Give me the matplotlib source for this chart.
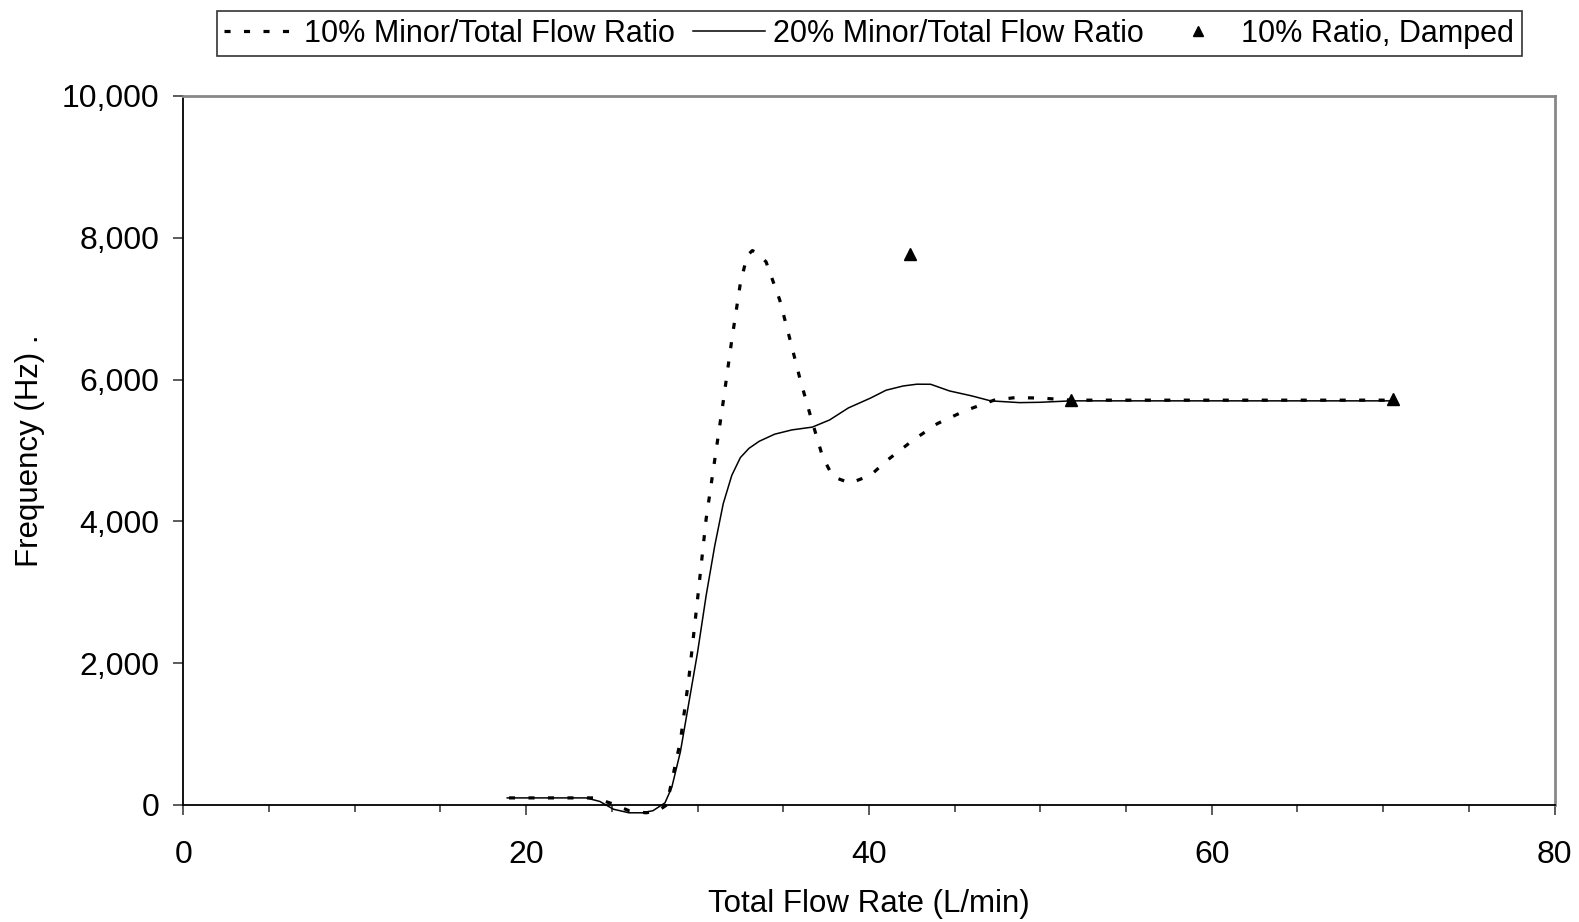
import matplotlib.pyplot as plt
from matplotlib.ticker import MultipleLocator, FuncFormatter
from matplotlib.lines import Line2D

plt.rcParams['font.family'] = ['Liberation Sans', 'DejaVu Sans']

# 10% minor/total flow ratio
flow_10 = [19.0, 20.0, 22.0, 24.0, 25.0, 26.0, 27.0, 27.7, 28.2, 28.6, 29.0, 29.5,
           30.0, 30.5, 31.0, 31.5, 32.0, 32.5, 32.9, 33.2, 33.6, 34.0, 34.8, 35.4,
           36.0, 36.6, 37.3, 37.9, 38.9, 40.1, 41.0, 42.6, 44.0, 45.6, 47.3, 48.5,
           50.0, 51.8, 55.0, 60.0, 65.0, 70.6]
freq_10 = [100, 100, 100, 100, 20, -80, -110, -80, 0, 450, 900, 1800,
           2900, 4030, 4860, 5690, 6560, 7360, 7750, 7820, 7760, 7660, 7120, 6560,
           5990, 5480, 4910, 4630, 4540, 4650, 4850, 5150, 5380, 5560, 5710, 5745,
           5740, 5710, 5710, 5710, 5710, 5710]

# 20% minor/total flow ratio
flow_20 = [18.9, 20.0, 22.0, 23.5, 24.3, 25.1, 26.0, 26.8, 27.4, 28.1, 28.5, 29.0,
           29.5, 30.0, 30.5, 31.0, 31.5, 32.0, 32.5, 33.0, 33.6, 34.5, 35.5, 36.7,
           37.7, 38.8, 40.1, 41.0, 42.0, 42.8, 43.6, 44.7, 46.0, 47.1, 48.8, 50.0,
           51.8, 55.0, 60.0, 65.0, 70.6]
freq_20 = [100, 100, 100, 100, 50, -60, -110, -110, -80, 30, 250, 750,
           1450, 2150, 2950, 3650, 4250, 4650, 4900, 5030, 5130, 5230, 5290, 5330,
           5430, 5600, 5740, 5850, 5910, 5935, 5934, 5840, 5770, 5700, 5675, 5680,
           5700, 5700, 5700, 5700, 5700]

# 10% ratio, damped
flow_damped = [42.4, 51.8, 70.6]
freq_damped = [7770, 5710, 5720]

fig = plt.figure(figsize=(15.79, 9.22), dpi=100)
ax = fig.add_axes([0.1161, 0.1269, 0.8684, 0.769])

ax.plot(flow_10, freq_10, color='black', lw=2.3, linestyle=(0, (1.9, 4.2)),
        clip_on=False, zorder=3)
ax.plot(flow_20, freq_20, color='black', lw=1.1, clip_on=False, zorder=3)
ax.plot(flow_damped, freq_damped, linestyle='none', marker='^', color='black',
        markersize=9, clip_on=False, zorder=4)

ax.set_xlim(0, 80)
ax.set_ylim(0, 10000)
ax.xaxis.set_major_locator(MultipleLocator(20))
ax.xaxis.set_minor_locator(MultipleLocator(5))
ax.yaxis.set_major_locator(MultipleLocator(2000))
ax.yaxis.set_major_formatter(FuncFormatter(lambda v, p: f'{int(v):,}'))

ax.tick_params(axis='both', which='major', direction='out', length=7, width=1.2,
               color='#404040', labelsize=23)
ax.tick_params(axis='x', which='minor', direction='out', length=5, width=1.2,
               color='#404040')
ax.tick_params(axis='x', pad=18)
ax.tick_params(axis='y', pad=10)

for side in ['left', 'bottom']:
    ax.spines[side].set_color('black')
    ax.spines[side].set_linewidth(1.3)
for side in ['top', 'right']:
    ax.spines[side].set_color('#888888')
    ax.spines[side].set_linewidth(2)

ax.set_xlabel('Total Flow Rate (L/min)', fontsize=22.5, labelpad=14)
ax.set_ylabel('Frequency (Hz) .', fontsize=22.5, labelpad=12)

handles = [
    Line2D([], [], color='black', lw=2.3, linestyle=(0, (1.9, 4.2))),
    Line2D([], [], color='black', lw=1.1),
    Line2D([], [], linestyle='none', marker='^', color='black', markersize=7),
]
labels = ['10% Minor/Total Flow Ratio', '20% Minor/Total Flow Ratio',
          '10% Ratio, Damped']
leg = fig.legend(handles, labels, loc='center', bbox_to_anchor=(0.5505, 0.9635),
                 ncol=3, fontsize=22, frameon=True, fancybox=False,
                 handlelength=2.35, handletextpad=0.25, columnspacing=0.6,
                 borderpad=0.25)
leg.get_frame().set_edgecolor('black')
leg.get_frame().set_linewidth(1.2)

fig.savefig('out.png', dpi=100)
